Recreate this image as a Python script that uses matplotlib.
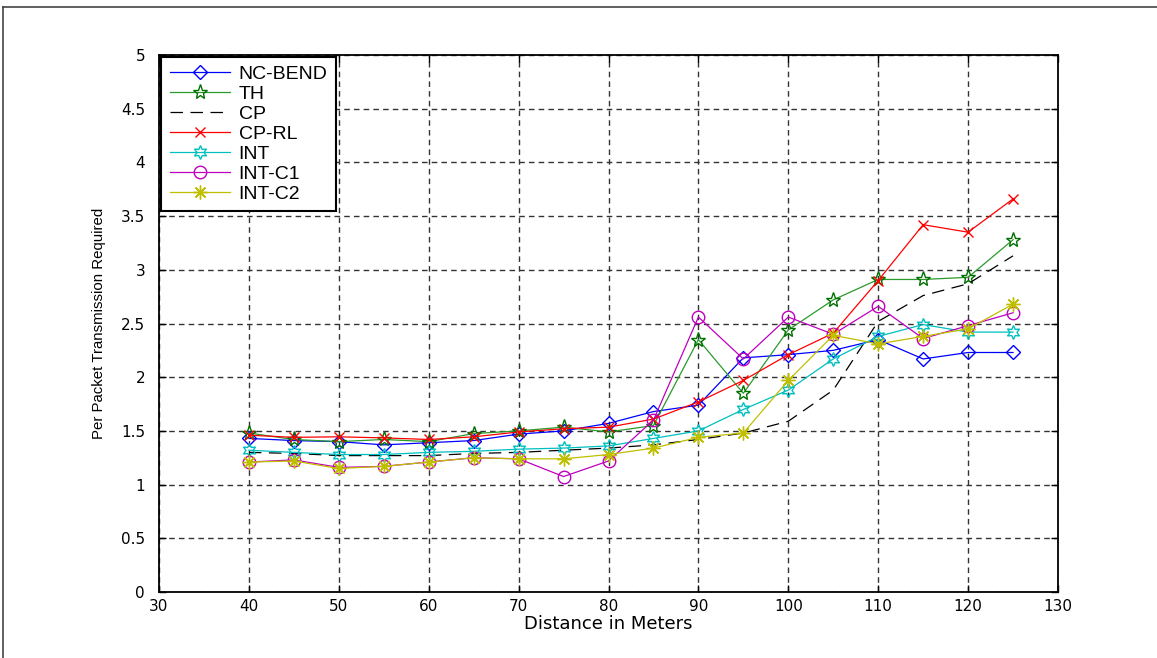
import matplotlib
matplotlib.use("Agg")
import matplotlib.pyplot as plt
from matplotlib.lines import Line2D

plt.rcParams['font.family'] = ['Liberation Sans', 'DejaVu Sans']

distance = [40, 45, 50, 55, 60, 65, 70, 75, 80, 85, 90, 95, 100, 105, 110, 115, 120, 125]

nc_bend = [1.43, 1.41, 1.40, 1.37, 1.39, 1.41, 1.47, 1.50, 1.57, 1.68, 1.74, 2.18, 2.21, 2.25, 2.35, 2.17, 2.23, 2.23]
th      = [1.48, 1.42, 1.40, 1.42, 1.40, 1.475, 1.50, 1.535, 1.49, 1.55, 2.35, 1.85, 2.44, 2.72, 2.91, 2.91, 2.93, 3.28]
cp      = [1.30, 1.29, 1.27, 1.27, 1.27, 1.29, 1.30, 1.32, 1.34, 1.37, 1.42, 1.48, 1.59, 1.88, 2.52, 2.76, 2.87, 3.13]
cp_rl   = [1.46, 1.44, 1.445, 1.435, 1.42, 1.445, 1.49, 1.52, 1.535, 1.61, 1.77, 1.97, 2.21, 2.41, 2.90, 3.42, 3.35, 3.66]
int_    = [1.32, 1.30, 1.28, 1.28, 1.30, 1.31, 1.33, 1.34, 1.36, 1.43, 1.50, 1.70, 1.88, 2.17, 2.38, 2.49, 2.42, 2.42]
int_c1  = [1.21, 1.23, 1.16, 1.17, 1.21, 1.25, 1.24, 1.075, 1.22, 1.60, 2.56, 2.17, 2.56, 2.40, 2.66, 2.36, 2.48, 2.60]
int_c2  = [1.21, 1.22, 1.15, 1.17, 1.21, 1.25, 1.24, 1.24, 1.28, 1.34, 1.44, 1.48, 1.97, 2.39, 2.31, 2.38, 2.45, 2.68]

labels = ['NC-BEND', 'TH', 'CP', 'CP-RL', 'INT', 'INT-C1', 'INT-C2']
x_ticks = [30, 40, 50, 60, 70, 80, 90, 100, 110, 120, 130]
y_ticks = [0, 0.5, 1, 1.5, 2, 2.5, 3, 3.5, 4, 4.5, 5]
y_ticklabels = ['0', '0.5', '1', '1.5', '2', '2.5', '3', '3.5', '4', '4.5', '5']

fig = plt.figure(figsize=(11.57, 6.58), dpi=100)
ax = fig.add_axes([159/1157, 1-592/658, (1058-159)/1157, (592-55)/658])

series = [nc_bend, th, cp, cp_rl, int_, int_c1, int_c2]
styles = [
    dict(color='#0000FF', ls='-', marker='D', ms=7, mfc='none', mec='#0000FF'),
    dict(color='#2a9a2a', ls='-', marker='*', ms=11, mfc='none', mec='#007000'),
    dict(color='#000000', ls=(0, (10, 6)), marker=None),
    dict(color='#FF0000', ls='-', marker='x', ms=6.5, mec='#FF0000'),
    dict(color='#00BFBF', ls='-', marker=(6, 1, 0), ms=10, mfc='none', mec='#00BFBF'),
    dict(color='#BF00BF', ls='-', marker='o', ms=9, mfc='none', mec='#BF00BF'),
    dict(color='#BFBF00', ls='-', marker=(8, 2, 0), ms=10, mec='#BFBF00'),
]
for vals, lab, st in zip(series, labels, styles):
    ax.plot(distance, vals, label=lab, lw=0.9, mew=1.0, **st)

ax.set_xlim(30, 130)
ax.set_ylim(0, 5)
ax.set_xticks(x_ticks)
ax.set_xticklabels([str(t) for t in x_ticks], fontsize=11, family=['DejaVu Sans'])
ax.set_yticks(y_ticks)
ax.set_yticklabels(y_ticklabels, fontsize=11, family=['DejaVu Sans'])
ax.tick_params(direction='in', top=True, right=True, length=5, width=1, colors='black')
ax.tick_params(axis='y', pad=10)
ax.tick_params(axis='x', pad=5)
ax.grid(True, color='#333333', ls=(0, (4, 3)), lw=1)
for s in ax.spines.values():
    s.set_linewidth(1.3)
    s.set_color('black')

ax.set_xlabel('Distance in Meters', fontsize=13, labelpad=1, family=['DejaVu Sans'])
ax.set_ylabel('Per Packet Transmission Required', fontsize=10.8, labelpad=11)

leg = ax.legend(loc='upper left', bbox_to_anchor=(0.002, 0.997), borderaxespad=0,
                fontsize=14, handlelength=3.1, handletextpad=0.45, labelspacing=0.12,
                borderpad=0.45, fancybox=False, framealpha=1, edgecolor='black')
leg.get_frame().set_linewidth(1.5)

# outer frame lines
fig.add_artist(Line2D([3/1157, 1], [1-7/658, 1-7/658], color='#444444', lw=1.2, transform=fig.transFigure))
fig.add_artist(Line2D([3/1157, 3/1157], [0, 1-7/658], color='#444444', lw=1.2, transform=fig.transFigure))

fig.savefig('out.png', dpi=100)
